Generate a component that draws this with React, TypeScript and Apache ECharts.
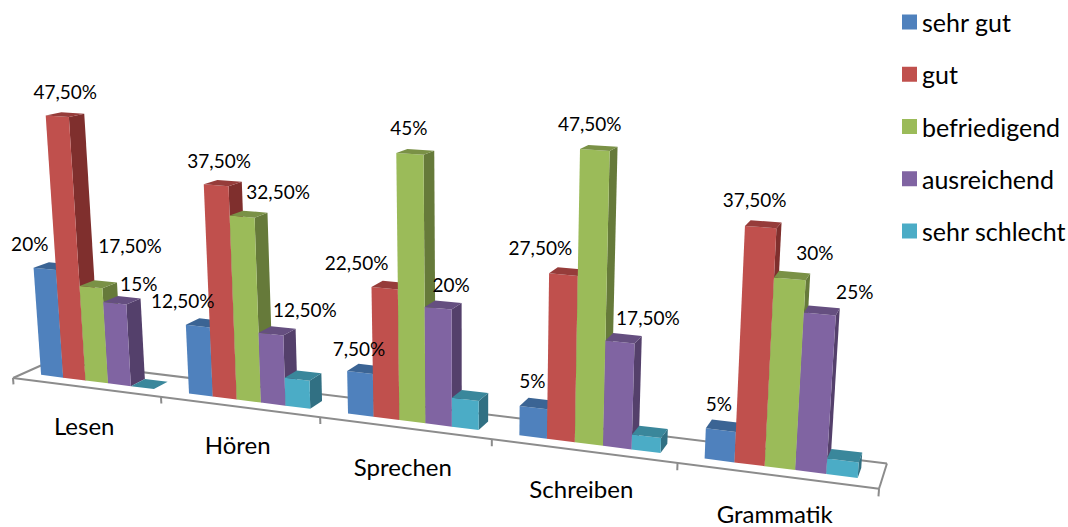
import React, { useEffect, useRef } from "react";
import * as echarts from "echarts";

const categories = ["Lesen", "Hören", "Sprechen", "Schreiben", "Grammatik"];
const grades = ["sehr gut", "gut", "befriedigend", "ausreichend", "sehr schlecht"];
const sehrGut = [20, 12.5, 7.5, 5, 5];
const gut = [47.5, 37.5, 22.5, 27.5, 37.5];
const befriedigend = [17.5, 32.5, 45, 47.5, 30];
const ausreichend = [15, 12.5, 20, 17.5, 25];
const sehrSchlecht = [0, 5, 5, 2.5, 2.5];
const gradeValues = [sehrGut, gut, befriedigend, ausreichend, sehrSchlecht];

// The last grade carries no value labels.
const labelledGrades = 4;

const faceColors = ["#4F81BD", "#C0504D", "#9BBB59", "#8064A2", "#4BACC6"];
const sideColors = ["#3A5F8C", "#7F2F2D", "#667A3A", "#54406B", "#317083"];
const topColors = ["#3B6494", "#963C3A", "#7A9146", "#654F80", "#3A879B"];

// Pixel nudges of the value labels from the front top edge of each bar.
const labelNudges: number[][] = [
  [-15, -25, 8, -25, 39, -42, 24, -20],
  [-15, -26, 3, -25, 36, -25, 34, -25],
  [-1, -24, -28, -26, -1, -26, 13, -24],
  [-1, -27, -23, -27, -5, -26, 28, -24],
  [-2, -27, -6, -28, 25, -26, 35, -23],
];

const FONT = "Lato, Carlito, sans-serif";
const GRID = 500;
const BAR = 1 / 6.5;
const BAR_START = 0.75 / 6.5;
const Z_FRONT = 0.3;
const Z_BACK = 0.7;

// Perspective projection of (category position, value, depth) onto the canvas.
function toScreen(x: number, y: number, z: number): number[] {
  const w = 1 - 0.0351 * x - 0.000872 * y + 0.0376 * z;
  return [
    (13 + 142.35 * x - 0.4087 * y + 39.9 * z) / w,
    (378 + 5 * x - 5.63 * y - 3.43 * z) / w,
  ];
}

// Reads a point through the hidden cartesian axes, then projects it.
function project(api: any, x: number, y: number, z: number): number[] {
  const p = api.coord([x, y]);
  return toScreen(p[0] / (GRID / 5), (GRID - p[1]) / (GRID / 50), z);
}

function poly(points: number[][], fill: string) {
  return { type: "polygon", shape: { points }, style: { fill }, silent: true };
}

function renderBar(grade: number) {
  return (_: any, api: any) => {
    const cat = api.value(0);
    const v = api.value(1);
    const x0 = cat + BAR_START + grade * BAR;
    const x1 = x0 + BAR;
    const children: any[] = [];
    if (v > 0) {
      children.push(
        poly(
          [
            project(api, x1, 0, Z_FRONT),
            project(api, x1, 0, Z_BACK),
            project(api, x1, v, Z_BACK),
            project(api, x1, v, Z_FRONT),
          ],
          sideColors[grade],
        ),
        poly(
          [
            project(api, x0, 0, Z_FRONT),
            project(api, x1, 0, Z_FRONT),
            project(api, x1, v, Z_FRONT),
            project(api, x0, v, Z_FRONT),
          ],
          faceColors[grade],
        ),
      );
    }
    children.push(
      poly(
        [
          project(api, x0, v, Z_FRONT),
          project(api, x1, v, Z_FRONT),
          project(api, x1, v, Z_BACK),
          project(api, x0, v, Z_BACK),
        ],
        topColors[grade],
      ),
    );
    return { type: "group", children };
  };
}

function renderFloor(_: any, api: any) {
  const n = categories.length;
  const line = (a: number[], b: number[]) => ({
    type: "line",
    shape: { x1: a[0], y1: a[1], x2: b[0], y2: b[1] },
    style: { stroke: "#8C8C8C", lineWidth: 2 },
    silent: true,
  });
  const children: any[] = [
    line(project(api, 0, 0, 0), project(api, n, 0, 0)),
    line(project(api, 0, 0, 1), project(api, n, 0, 1)),
    line(project(api, 0, 0, 0), project(api, 0, 0, 1)),
    line(project(api, n, 0, 0), project(api, n, 0, 1)),
  ];
  for (let i = 0; i <= n; i++) {
    children.push(line(project(api, i, 0, 0), project(api, i, -1.2, 0)));
  }
  categories.forEach((name, i) => {
    const p = project(api, i + 0.5, 0, 0);
    children.push({
      type: "text",
      x: p[0] - 1.5,
      y: p[1] + 38,
      silent: true,
      style: {
        text: name,
        fill: "#000",
        fontFamily: FONT,
        fontSize: 24,
        lineHeight: 22,
        align: "center",
        verticalAlign: "middle",
      },
    });
  });
  return { type: "group", children };
}

function percentText(v: number): string {
  return Number.isInteger(v) ? `${v}%` : `${v.toFixed(2).replace(".", ",")}%`;
}

function renderValueLabel(_: any, api: any) {
  const cat = api.value(0);
  const grade = api.value(1);
  const v = api.value(2);
  const p = project(api, cat + BAR_START + (grade + 0.5) * BAR, v, Z_FRONT);
  return {
    type: "text",
    x: p[0] + labelNudges[cat][grade * 2],
    y: p[1] + labelNudges[cat][grade * 2 + 1],
    silent: true,
    style: {
      text: percentText(v),
      fill: "#000",
      fontFamily: FONT,
      fontSize: 19,
      align: "center",
      verticalAlign: "middle",
    },
  };
}

export default function App() {
  const ref = useRef<HTMLDivElement>(null);
  useEffect(() => {
    const chart = echarts.init(ref.current!, undefined, { renderer: "svg" });
    const labelRows: number[][] = [];
    gradeValues.slice(0, labelledGrades).forEach((values, g) =>
      values.forEach((v, c) => {
        if (v > 0) labelRows.push([c, g, v]);
      }),
    );
    chart.setOption({
      animation: false,
      backgroundColor: "#fff",
      grid: { left: 0, top: 0, width: GRID, height: GRID },
      xAxis: { type: "value", min: 0, max: 5, show: false },
      yAxis: { type: "value", min: 0, max: 50, show: false },
      legend: {
        orient: "vertical",
        left: 902,
        top: 9.5,
        padding: 0,
        data: grades,
        icon: "rect",
        itemWidth: 15,
        itemHeight: 15,
        itemGap: 27.25,
        selectedMode: false,
        textStyle: { fontFamily: FONT, fontSize: 25, color: "#000" },
      },
      series: [
        {
          type: "custom",
          name: "Achse",
          data: [[0, 0]],
          renderItem: renderFloor,
          z: 1,
          silent: true,
        },
        ...grades.map((name, g) => ({
          type: "custom",
          name,
          data: categories.map((_, c) => [c, gradeValues[g][c]]),
          renderItem: renderBar(g),
          itemStyle: { color: faceColors[g] },
          z: 2,
          silent: true,
        })),
        {
          type: "custom",
          name: "Werte",
          data: labelRows,
          renderItem: renderValueLabel,
          z: 3,
          silent: true,
        },
      ],
    });
    return () => chart.dispose();
  }, []);
  return (
    <div
      ref={ref}
      style={{ position: "absolute", left: 0, top: 0, width: 1068, height: 527 }}
    />
  );
}
